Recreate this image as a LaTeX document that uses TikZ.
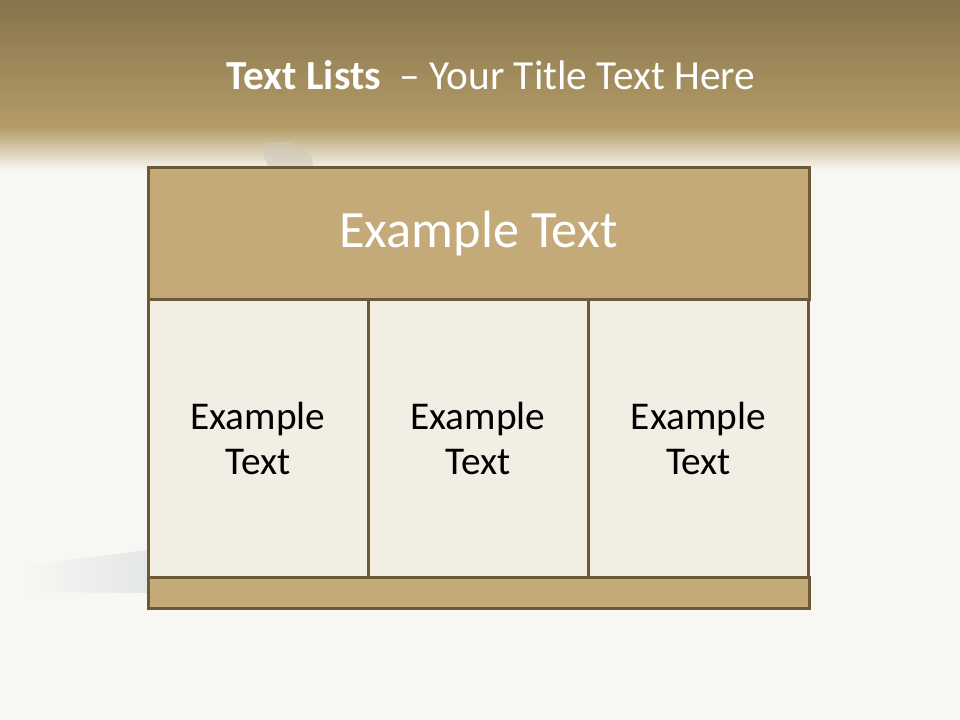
\documentclass[tikz,border=0pt]{standalone}
\usepackage{fontspec}
\setmainfont{Carlito}
\usepackage{tikz}
\usetikzlibrary{positioning}
\definecolor{tlBand}{HTML}{86744B}
\definecolor{tlBandLow}{HTML}{B49C68}
\definecolor{tlPaper}{HTML}{F8F7F3}
\definecolor{tlEdge}{HTML}{6B5A35}
\definecolor{tlHead}{HTML}{C4AA78}
\definecolor{tlCell}{HTML}{F2EEE4}
\definecolor{tlSmudge}{HTML}{CFC8BA}
\definecolor{tlShade}{HTML}{E4E7E7}
\tikzset{
  tlbox/.style={
    rectangle,
    draw=tlEdge,
    fill=#1,
    line width=2.25pt,
    inner sep=0pt,
    align=center
  },
  tlcell/.style={
    tlbox=tlCell,
    minimum width=165pt,
    minimum height=207.75pt,
    font=\fontsize{29.5}{34}\selectfont,
    text=black
  }
}

\begin{document}
\begin{tikzpicture}[x=0.75pt,y=-0.75pt]
  % background and top band
  \fill[tlPaper] (0,0) rectangle (960,720);
  \shade[top color=tlBand, bottom color=tlBandLow] (0,0) rectangle (960,128);
  \shade[top color=tlBandLow, bottom color=tlPaper] (0,127.5) rectangle (960,170);
  \fill[tlSmudge, opacity=0.55] (266,143) -- (290,142) -- (294,147) -- (306,149) -- (312,156) -- (313,166) -- (268,166) -- (263,155) -- cycle;
  \shade[left color=tlPaper, right color=tlShade] (20,566) -- (148,550) -- (148,593) -- (20,592) -- cycle;

  \node[text=white, font=\fontsize{31}{37}\selectfont] (title) at (491,75)
    {\textbf{Text Lists}\ \ – Your Title Text Here};

  % table
  \node[tlbox=tlHead, minimum width=495.75pt, minimum height=99pt,
    text=white, font=\fontsize{39.3}{47}\selectfont] (head) at (478.5,234) {Example Text};
  \node[tlcell] (cellA) at (258,438.5) {Example\\Text};
  \node[tlcell] (cellB) at (478,438.5) {Example\\Text};
  \node[tlcell] (cellC) at (698.5,438.5) {Example\\Text};
  \node[tlbox=tlHead, minimum width=495.75pt, minimum height=23.25pt] (foot) at (478.5,592.5) {};
\end{tikzpicture}
\end{document}
